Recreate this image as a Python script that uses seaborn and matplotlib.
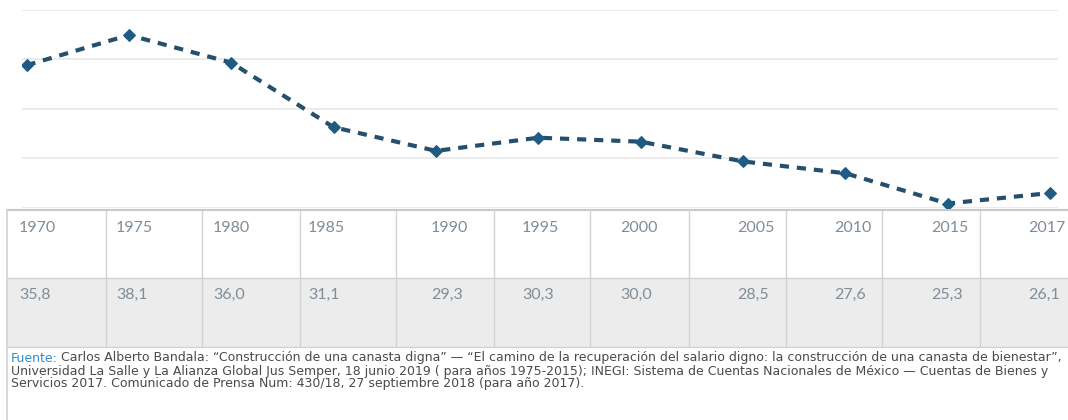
import numpy as np
import pandas as pd
import seaborn as sns
import matplotlib.pyplot as plt
from matplotlib.patches import Rectangle

# data
years = ['1970', '1975', '1980', '1985', '1990', '1995', '2000', '2005', '2010', '2015', '2017']
values = [35.8, 38.1, 36.0, 31.1, 29.3, 30.3, 30.0, 28.5, 27.6, 25.3, 26.1]
value_labels = ['35,8', '38,1', '36,0', '31,1', '29,3', '30,3', '30,0', '28,5', '27,6', '25,3', '26,1']

source_lines = [
    'Carlos Alberto Bandala: \u201cConstrucci\u00f3n de una canasta digna\u201d \u2014 \u201cEl camino de la recuperaci\u00f3n del salario digno: la construcci\u00f3n de una canasta de bienestar\u201d,',
    'Universidad La Salle y La Alianza Global Jus Semper, 18 junio 2019 ( para a\u00f1os 1975-2015); INEGI: Sistema de Cuentas Nacionales de M\u00e9xico \u2014 Cuentas de Bienes y',
    'Servicios 2017. Comunicado de Prensa Num: 430/18, 27 septiembre 2018 (para a\u00f1o 2017).',
]

W, H = 1068, 420
sns.set_theme(style='white')
plt.rcParams['font.family'] = ['Lato', 'DejaVu Sans']

fig = plt.figure(figsize=(W / 100, H / 100), dpi=100)

# line chart area (pixel box from the reference)
ax = fig.add_axes([22 / W, 1 - 207.5 / H, (1058 - 22) / W, (207.5 - 10) / H])
df = pd.DataFrame({'year': years, 'value': values})
sns.lineplot(data=df, x='year', y='value', ax=ax, color='#24506e', linewidth=3.0,
             linestyle=(0, (2.2, 1.9)), marker='D', markersize=6.5,
             markerfacecolor='#1f5b82', markeredgecolor='#1f5b82', sort=False)
step = (1050 - 26.5) / 10
ax.set_xlim(-(26.5 - 22) / step, 10 + (1058 - 1050) / step)
ax.set_ylim(25, 40)
ax.set_yticks(np.linspace(25, 40, 5))
ax.yaxis.grid(True, color='#e8e8e8', linewidth=1.2)
ax.set_xticks([])
ax.tick_params(left=False, labelleft=False)
ax.set_xlabel('')
ax.set_ylabel('')
for s in ax.spines.values():
    s.set_visible(False)
ax.patch.set_alpha(0)

# table underneath, drawn in pixel coordinates
tx = fig.add_axes([0, 0, 1, 1], zorder=-1)
tx.set_xlim(0, W)
tx.set_ylim(H, 0)
tx.axis('off')

borders = [7, 106, 202, 300, 396, 494, 590, 689, 786, 882, 980, 1080]
text_x = [19, 116, 213, 308, 431, 522, 620, 737, 834, 931, 1028]
row_top, row_mid, row_bot = 210, 278, 347
line_c = '#d2d2d2'
txt_c = '#7f8d99'

tx.add_patch(Rectangle((7, row_mid), W, row_bot - row_mid, facecolor='#ececec', edgecolor='none'))
tx.plot([7, W], [row_top, row_top], color='#c9c9c9', lw=1.6)
tx.plot([7, W], [row_mid, row_mid], color=line_c, lw=1.0)
tx.plot([7, W], [row_bot, row_bot], color=line_c, lw=1.0)
for b in borders[1:-1]:
    tx.plot([b, b], [row_top, row_bot], color=line_c, lw=1.0)
tx.plot([7, 7], [row_top, H], color=line_c, lw=1.2)

for x, yr, lab in zip(text_x, years, value_labels):
    tx.text(x, 228, yr, fontsize=11.5, color=txt_c, ha='left', va='center')
    tx.text(x, 295, lab, fontsize=11.5, color=txt_c, ha='left', va='center')

# source note, sized so the first line spans the reference width
note_font = ['DejaVu Sans']
renderer = fig.canvas.get_renderer()
probe = tx.text(0, 0, 'Fuente: ' + source_lines[0], fontsize=10, family=note_font)
fs = 10 * (1059 - 11) / probe.get_window_extent(renderer).width
probe.remove()

t = tx.text(11, 358, 'Fuente:', fontsize=fs, color='#2f8fc6', ha='left', va='center',
            family=note_font)
head_w = t.get_window_extent(renderer).width
tx.text(11 + head_w + 3, 358, source_lines[0], fontsize=fs, color='#4a4a4a',
        ha='left', va='center', family=note_font)
for i, ln in enumerate(source_lines[1:]):
    tx.text(11, 371 + 13 * i, ln, fontsize=fs, color='#4a4a4a', ha='left', va='center',
            family=note_font)

fig.savefig('out.png', dpi=100)
